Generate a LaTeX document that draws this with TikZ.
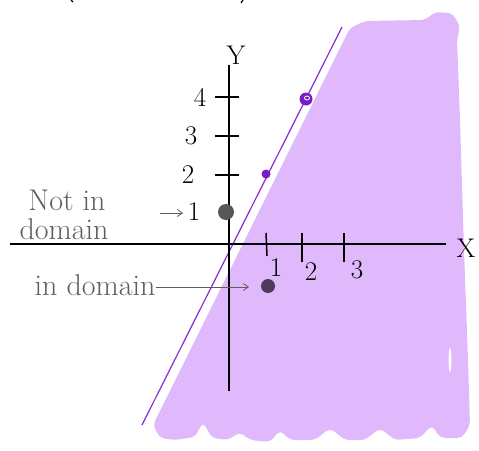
\documentclass[tikz,border=0pt]{standalone}
\usetikzlibrary{arrows.meta}
\definecolor{shadeC}{HTML}{E0B8FC}
\definecolor{lineP}{HTML}{8A2BD6}
\definecolor{dotP}{HTML}{7A1CC4}
\definecolor{dotG}{HTML}{575757}
\definecolor{dotD}{HTML}{4E3A5C}
\definecolor{hand}{HTML}{5E5E5E}
\begin{document}
\begin{tikzpicture}[x=1pt,y=-1pt,
  axis/.style={line width=1.8pt, black},
  tick/.style={line width=1.5pt, black},
  num/.style={font=\fontsize{27}{29}\selectfont, inner sep=0pt},
  handtxt/.style={font=\fontsize{30}{32}\selectfont, text=hand, inner sep=0pt},
  harrow/.style={hand, line width=0.8pt, -{Straight Barb[length=5pt,width=7pt]}}]
\useasboundingbox (0,0) rectangle (479,450);
% shaded region
\fill[shadeC, rounded corners=5pt] (350,28) -- (365,21) -- (425,20) -- (435,12) -- (452,13) -- (460,26) -- (457,40) -- (460,120) -- (464,250) -- (468,360) -- (470,425) -- (462,438) -- (440,438) -- (432,425) -- (420,438) -- (395,440) -- (380,428) -- (365,440) -- (345,440) -- (330,428) -- (315,440) -- (290,440) -- (280,430) -- (270,442) -- (250,440) -- (240,432) -- (228,440) -- (212,438) -- (203,422) -- (195,437) -- (175,440) -- (160,438) -- (153,425) -- cycle;
\fill[white] (450,360) ellipse (1.5pt and 12pt);
% top fragments
\draw[line width=1.2pt] (71,0) -- (73,2);
\draw[line width=1.2pt] (243,0) -- (241,3);
% boundary line
\coordinate (ltop) at (342,27);
\coordinate (lbot) at (142,425);
\draw[lineP, line width=1.2pt] (ltop) -- (lbot);
% axes
\coordinate (xl) at (10,244);
\coordinate (xr) at (446,244);
\coordinate (yt) at (229,65);
\coordinate (yb) at (229,391);
\draw[axis] (xl) -- (xr);
\draw[axis] (yb) -- (yt);
\node[num] (X) at (466,248) {X};
\node[num] (Y) at (236,55) {Y};
% y ticks
\foreach \yy/\lab/\lx [count=\i] in {97/4/200, 136/3/191, 175/2/188} {
  \draw[tick] (215,\yy) -- (239,\yy);
  \node[num] (ylab\i) at (\lx,\yy) {\lab};
}
\node[num] (ylab1a) at (194,212) {1};
% x ticks
\draw[tick] (266,233) -- (267,256);
\draw[tick] (302,233) -- (302,262);
\draw[tick] (344,233) -- (344,262);
\node[num] (xlab1) at (276,268) {1};
\node[num] (xlab2) at (311,272) {2};
\node[num] (xlab3) at (357,270) {3};
% points
\fill[dotP] (306,99) circle (6.5pt);
\draw[white, line width=0.8pt] (307,98) ellipse (2.5pt and 2pt);
\fill[dotP] (266,174) circle (4.5pt);
\node[circle, fill=dotG, minimum size=16pt, inner sep=0pt] (pg) at (226,212) {};
\node[circle, fill=dotD, minimum size=14pt, inner sep=0pt] (pd) at (268,286) {};
% handwritten labels
\node[handtxt] (nd1) at (67,200) {Not in};
\node[handtxt] (nd2) at (64,229) {domain};
\node[handtxt] (ind) at (95,285) {in domain};
\coordinate (a1s) at (160,213);
\coordinate (a1e) at (183,213);
\draw[harrow] (a1s) -- (a1e);
\coordinate (a2e) at (249,287);
\draw[harrow] (ind.east) ++(0,2) -- (a2e);
\end{tikzpicture}
\end{document}
